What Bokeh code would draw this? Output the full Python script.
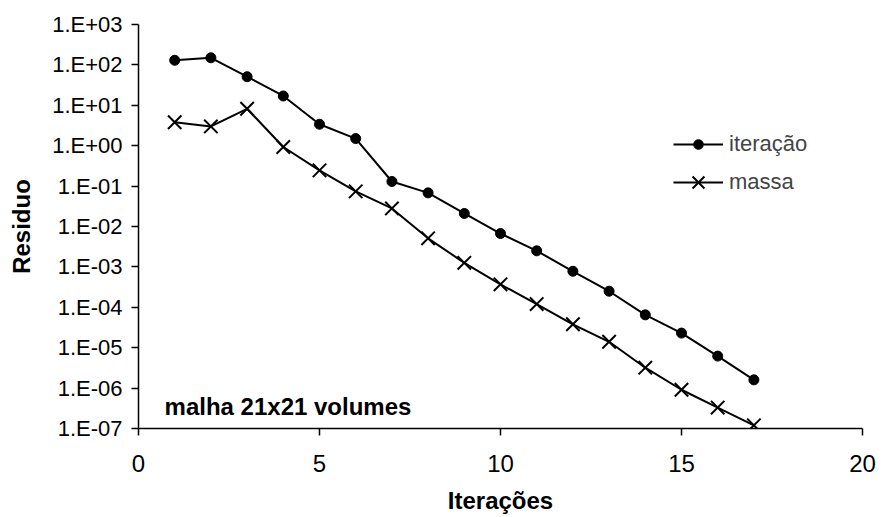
from bokeh.plotting import figure
from bokeh.models import Range1d, FixedTicker, Legend, LegendItem, Label
from bokeh.embed import file_html
from bokeh.resources import INLINE

iteracoes = list(range(1, 18))
iteracao = [130, 150, 51, 17, 3.4, 1.5, 0.13, 0.068, 0.021, 0.0067, 0.0025,
            7.8e-4, 2.5e-4, 6.5e-5, 2.3e-5, 6.2e-6, 1.6e-6]
massa = [3.8, 3.0, 8.2, 0.93, 0.245, 0.074, 0.028, 0.0051, 1.26e-3, 3.7e-4,
         1.2e-4, 3.8e-5, 1.4e-5, 3.2e-6, 9.1e-7, 3.3e-7, 1.2e-7]

x_ticks = [0, 5, 10, 15, 20]
y_ticks = [1e-7, 1e-6, 1e-5, 1e-4, 1e-3, 1e-2, 1e-1, 1e0, 1e1, 1e2, 1e3]
y_tick_labels = ["1.E-07", "1.E-06", "1.E-05", "1.E-04", "1.E-03", "1.E-02",
                 "1.E-01", "1.E+00", "1.E+01", "1.E+02", "1.E+03"]

FONT = "Liberation Sans"

p = figure(width=882, height=517, y_axis_type="log",
           x_range=Range1d(0, 20), y_range=Range1d(1e-7, 1e3),
           output_backend="svg", toolbar_location=None,
           min_border_left=138, min_border_right=20,
           min_border_top=24, min_border_bottom=89)
p.outline_line_color = None
p.xgrid.visible = False
p.ygrid.visible = False
p.background_fill_color = "white"
p.border_fill_color = "white"

r1l = p.line(iteracoes, iteracao, line_color="black", line_width=2)
r1m = p.scatter(iteracoes, iteracao, marker="circle", size=10,
                fill_color="black", line_color="black")
r2l = p.line(iteracoes, massa, line_color="black", line_width=2)
r2m = p.scatter(iteracoes, massa, marker="x", size=19,
                line_color="black", line_width=2)

for ax in (p.xaxis[0], p.yaxis[0]):
    ax.axis_line_color = "black"
    ax.axis_line_width = 1.5
    ax.major_tick_line_color = "black"
    ax.major_tick_line_width = 1.5
    ax.major_tick_out = 7
    ax.major_tick_in = 0
    ax.minor_tick_line_color = None
    ax.major_label_text_font = FONT
    ax.major_label_text_color = "black"
    ax.axis_label_text_font = FONT
    ax.axis_label_text_font_style = "bold"
    ax.axis_label_text_color = "black"
    ax.axis_label_text_font_size = "24px"

p.xaxis.ticker = FixedTicker(ticks=x_ticks)
p.xaxis.major_label_text_font_size = "24px"
p.xaxis.major_label_standoff = 19
p.xaxis.axis_label = "Iterações"
p.xaxis.axis_label_standoff = 12

p.yaxis.ticker = FixedTicker(ticks=y_ticks)
p.yaxis.major_label_overrides = dict(zip(y_ticks, y_tick_labels))
p.yaxis.major_label_text_font_size = "22px"
p.yaxis.major_label_standoff = 9
p.yaxis.axis_label = "Residuo"
p.yaxis.axis_label_standoff = 14

common = dict(padding=0, margin=0, border_line_color=None,
              background_fill_alpha=0, glyph_width=50, label_standoff=6,
              label_text_font=FONT, label_text_font_size="22px")
legend1 = Legend(items=[LegendItem(label="iteração", renderers=[r1l, r1m])],
                 location=(535, 271), glyph_height=24, label_height=24,
                 **common)
legend2 = Legend(items=[LegendItem(label="massa", renderers=[r2l, r2m])],
                 location=(535, 225), glyph_height=42, label_height=42,
                 **common)
p.add_layout(legend1)
p.add_layout(legend2)

p.add_layout(Label(x=0.72, y=3.6e-7, text="malha 21x21 volumes",
                   text_font=FONT, text_font_style="bold",
                   text_font_size="24px", text_color="black",
                   text_baseline="alphabetic"))

open("out.html", "w").write(file_html(p, INLINE))
